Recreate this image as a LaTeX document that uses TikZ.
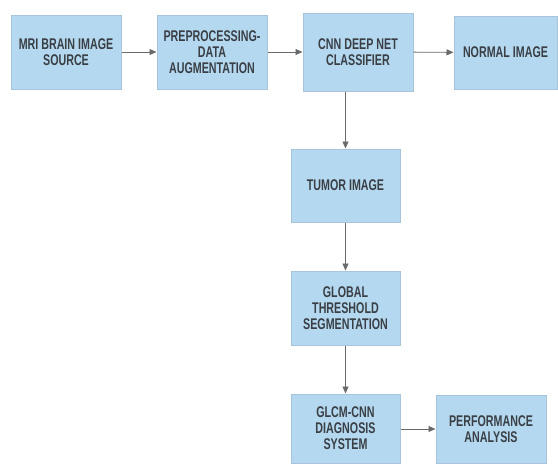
\documentclass[tikz,border=0pt]{standalone}
\usepackage{fontspec}
\setmainfont[FakeStretch=0.69]{Liberation Sans}
\usetikzlibrary{arrows.meta}
\definecolor{boxfill}{HTML}{B4D8EF}
\definecolor{boxline}{HTML}{A8C4D8}
\definecolor{txt}{HTML}{3A3F45}
\definecolor{arr}{HTML}{6A6A6A}
\tikzset{
  blk/.style={draw=boxline, line width=1pt, fill=boxfill, text=txt, align=center,
    font=\fontsize{15.5}{16}\selectfont\bfseries, inner sep=0pt},
  conn/.style={draw=arr, line width=0.9pt, -{Triangle[length=7pt,width=6pt]}}
}
\begin{document}
\begin{tikzpicture}[x=1pt,y=-1pt]
\useasboundingbox (0,0) rectangle (558,464);
\node[blk, minimum width=110pt, minimum height=74pt] (b1) at (66,52) {MRI BRAIN IMAGE\\SOURCE};
\node[blk, minimum width=110pt, minimum height=74pt] (b2) at (212,52) {PREPROCESSING-\\DATA\\AUGMENTATION};
\node[blk, minimum width=110pt, minimum height=78pt] (b3) at (358,52) {CNN DEEP NET\\CLASSIFIER};
\node[blk, minimum width=103pt, minimum height=73pt] (b4) at (505.5,52.5) {NORMAL IMAGE};
\node[blk, minimum width=109pt, minimum height=73pt] (b5) at (345.5,185.5) {TUMOR IMAGE};
\node[blk, minimum width=109pt, minimum height=74pt] (b6) at (345.5,308) {GLOBAL\\THRESHOLD\\SEGMENTATION};
\node[blk, minimum width=109pt, minimum height=69pt] (b7) at (345.5,428.5) {GLCM-CNN\\DIAGNOSIS\\SYSTEM};
\node[blk, minimum width=110pt, minimum height=68pt] (b8) at (491,429) {PERFORMANCE\\ANALYSIS};
\draw[conn] (b1) -- (b2);
\draw[conn] (b2) -- (b3);
\draw[conn] (b3) -- (b4);
\draw[conn] (b3.south -| b5.north) -- (b5.north);
\draw[conn] (b5) -- (b6);
\draw[conn] (b6) -- (b7);
\draw[conn] (b7.east |- b8.west) -- (b8.west);
\end{tikzpicture}
\end{document}
